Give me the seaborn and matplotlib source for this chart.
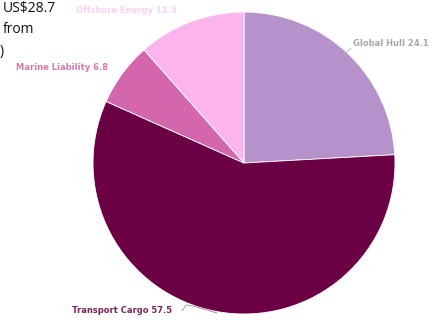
import matplotlib
matplotlib.use("Agg")
import matplotlib.pyplot as plt
import seaborn as sns

# 数据
segments = ["Global Hull", "Transport Cargo", "Marine Liability", "Offshore Energy"]
values = [24.1, 57.5, 6.8, 11.5]
colors = ["#b592c9", "#6b0045", "#d466ad", "#fcb4ec"]
label_colors = ["#a8a8a8", "#7a2555", "#d27cae", "#fbd2f1"]

sns.set_theme(style="white")
plt.rcParams['font.family'] = ['Open Sans', 'DejaVu Sans']

fig = plt.figure(figsize=(4.36, 3.24), dpi=100)
ax = fig.add_axes([0.2133, 0.0309, 0.6927, 0.932])

wedges, _ = ax.pie(values, colors=colors, startangle=90, counterclock=False,
                   radius=1, wedgeprops=dict(edgecolor="white", linewidth=0.6))
ax.set_xlim(-1, 1)
ax.set_ylim(-1, 1)
ax.set_aspect("equal")
ax.axis("off")

# 标签位置 (数据坐标)
label_pos = {
    "Global Hull": (0.72, 0.79, "left"),
    "Transport Cargo": (-1.14, -0.98, "left"),
    "Marine Liability": (-1.51, 0.63, "left"),
    "Offshore Energy": (-1.11, 1.01, "left"),
}
for name, val, col in zip(segments, values, label_colors):
    x, y, ha = label_pos[name]
    ax.text(x, y, f"{name} {val}", color=col, fontsize=6, fontweight="bold",
            ha=ha, va="center", clip_on=False, family=['DejaVu Sans'])

# 引线
ax.plot([0.71, 0.66], [0.76, 0.72], color="#b0b0b0", lw=0.5, clip_on=False)
ax.plot([-0.41, -0.384, -0.338, -0.179], [-0.98, -0.94, -0.947, -0.993],
        color="#9a6a88", lw=0.5, clip_on=False)

# 左上角标题残文
fig.text(0.007, 0.975, "US$28.7", fontsize=10, color="#111111", va="center", ha="left")
fig.text(0.007, 0.91, "from", fontsize=10, color="#111111", va="center", ha="left")
fig.text(0.0, 0.84, ")", fontsize=10, color="#111111", va="center", ha="left")

fig.savefig("out.png", dpi=100)
